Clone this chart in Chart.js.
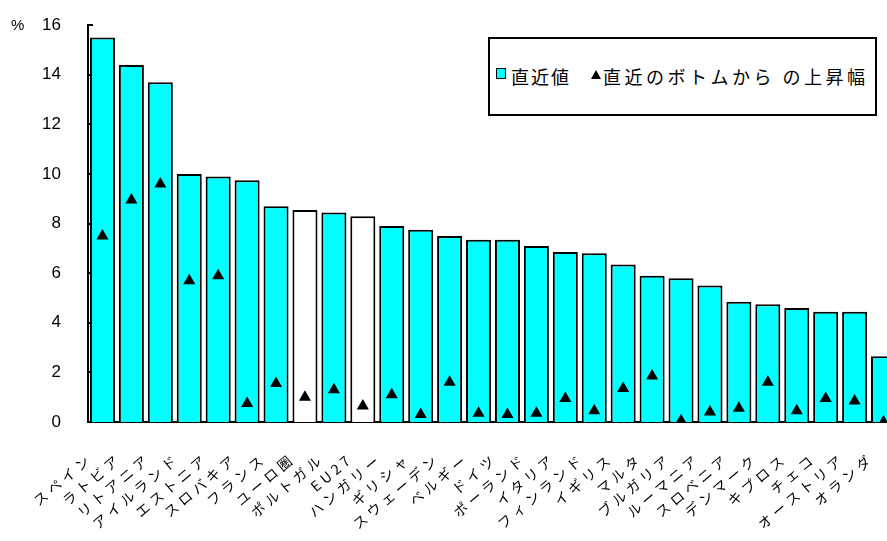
<!DOCTYPE html>
<html lang="ja">
<head>
<meta charset="utf-8">
<title>失業率の直近値と直近のボトムからの上昇幅</title>
<script src="https://cdn.jsdelivr.net/npm/chart.js@4.4.1/dist/chart.umd.min.js"></script>
<style>
  html, body { margin: 0; padding: 0; background: #fff; }
  #wrap { position: relative; width: 887px; height: 541px; overflow: hidden; background: #fff; }
  #chart { position: absolute; left: 0; top: -12px; }
  #unit { position: absolute; left: 11px; top: 16px; font: 15px "Liberation Sans", Arial, sans-serif; color: #000; }
  #legend { position: absolute; left: 488px; top: 37px; width: 385px; height: 75px; border: 2px solid #000; background: #fff; }
  .lg-text { position: absolute; top: 25px; font: 18px "Noto Sans CJK JP", sans-serif; letter-spacing: 2px; line-height: 24px; color: #000; white-space: nowrap; }
  .lg-box { position: absolute; left: 6px; top: 29px; width: 8px; height: 9px; background: #00ffff; border: 1px solid #000; }
  .lg-tri { position: absolute; left: 101px; top: 31px; width: 0; height: 0; border-left: 5px solid transparent; border-right: 5px solid transparent; border-bottom: 9px solid #000; }
</style>
</head>
<body>
<div id="wrap">
  <canvas id="chart" width="905" height="553"></canvas>
  <div id="unit">%</div>
  <div id="legend">
    <div class="lg-box"></div>
    <div class="lg-text" style="left:21px">直近値</div>
    <div class="lg-tri"></div>
    <div class="lg-text" style="left:113px; letter-spacing:3.5px">直近のボトムから の上昇幅</div>
  </div>
</div>
<script>
// 国・地域名（直近値の高い順）
const categories = [
  'スペイン', 'ラトビア', 'リトアニア', 'アイルランド', 'エストニア', 'スロバキア', 'フランス',
  'ユーロ圏', 'ポルトガル', 'EU27', 'ハンガリー', 'ギリシャ', 'スウェーデン', 'ベルギー',
  'ドイツ', 'ポーランド', 'イタリア', 'フィンランド', 'イギリス', 'マルタ', 'ブルガリア',
  'ルーマニア', 'スロベニア', 'デンマーク', 'キプロス', 'チェコ', 'オーストリア', 'オランダ'
];

// 直近値（%）
const latestValues = [
  15.5, 14.4, 13.7, 10.0, 9.9, 9.75, 8.7,
  8.55, 8.45, 8.3, 7.9, 7.75, 7.5, 7.35,
  7.35, 7.1, 6.85, 6.8, 6.35, 5.9, 5.8,
  5.5, 4.85, 4.75, 4.6, 4.45, 4.45, 2.65
];

// 直近のボトムからの上昇幅（%ポイント）
const riseFromBottom = [
  7.5, 8.95, 9.6, 5.7, 5.9, 0.75, 1.55,
  1.0, 1.3, 0.65, 1.1, 0.3, 1.6, 0.35,
  0.3, 0.35, 0.95, 0.45, 1.35, 1.85, 0.05,
  0.4, 0.55, 1.6, 0.45, 0.95, 0.85, 0.0
];

// 地域集計（白抜きで表示）
const aggregates = ['ユーロ圏', 'EU27'];

// 縦軸目盛り
const yTicks = [0, 2, 4, 6, 8, 10, 12, 14, 16];

const barColors = categories.map(c => aggregates.includes(c) ? '#ffffff' : '#00ffff');

// 縦軸の目盛り線を内側に描く
const innerTicks = {
  id: 'innerTicks',
  beforeDatasetsDraw(chart) {
    const y = chart.scales.y;
    const ctx = chart.ctx;
    const left = chart.chartArea.left;
    ctx.save();
    ctx.strokeStyle = '#000';
    ctx.lineWidth = 2;
    yTicks.forEach(v => {
      const py = Math.round(y.getPixelForValue(v));
      ctx.beginPath();
      ctx.moveTo(left, py);
      ctx.lineTo(left + 5, py);
      ctx.stroke();
    });
    ctx.restore();
  }
};

// 横軸ラベルの字間を広げる
const spacedLabels = {
  id: 'spacedLabels',
  beforeDraw(chart) {
    const s = chart.scales.x;
    if (s.__spaced) return;
    const orig = s.drawLabels.bind(s);
    s.drawLabels = function (area) {
      const c = this.ctx;
      const prev = c.letterSpacing;
      c.letterSpacing = '4px';
      orig(area);
      c.letterSpacing = prev;
    };
    s.__spaced = true;
  }
};

new Chart(document.getElementById('chart'), {
  type: 'bar',
  data: {
    labels: categories,
    datasets: [
      {
        type: 'line',
        label: '直近のボトムからの上昇幅',
        data: riseFromBottom,
        showLine: false,
        pointStyle: 'triangle',
        pointRadius: 7,
        pointBackgroundColor: '#000',
        pointBorderColor: '#000',
        pointBorderWidth: 0,
        order: 0
      },
      {
        type: 'bar',
        label: '直近値',
        data: latestValues,
        backgroundColor: barColors,
        borderColor: '#000',
        borderWidth: 2,
        barPercentage: 0.865,
        categoryPercentage: 1.0,
        order: 1
      }
    ]
  },
  options: {
    responsive: false,
    animation: false,
    devicePixelRatio: 1,
    layout: { padding: { top: 13, left: 0, right: 0, bottom: 0 } },
    plugins: {
      legend: { display: false },
      tooltip: { enabled: false }
    },
    scales: {
      x: {
        offset: true,
        grid: { display: false, drawTicks: false },
        border: { display: true, color: '#000', width: 2 },
        ticks: {
          autoSkip: false,
          minRotation: 40,
          maxRotation: 40,
          padding: 28,
          labelOffset: -12,
          color: '#000',
          font: { family: '"Noto Sans CJK JP", sans-serif', size: 14 }
        },
        afterFit(scale) {
          scale.height = 119;
          scale.paddingLeft = 0;
          scale.paddingRight = 0;
        }
      },
      y: {
        min: 0,
        max: 16,
        afterBuildTicks(scale) { scale.ticks = yTicks.map(v => ({ value: v })); },
        grid: { display: false, drawTicks: false },
        border: { display: true, color: '#000', width: 2 },
        ticks: {
          padding: 27,
          color: '#000',
          font: { family: '"Liberation Sans", Arial, sans-serif', size: 17 }
        },
        afterFit(scale) { scale.width = 88; }
      }
    }
  },
  plugins: [innerTicks, spacedLabels]
});
</script>
</body>
</html>
